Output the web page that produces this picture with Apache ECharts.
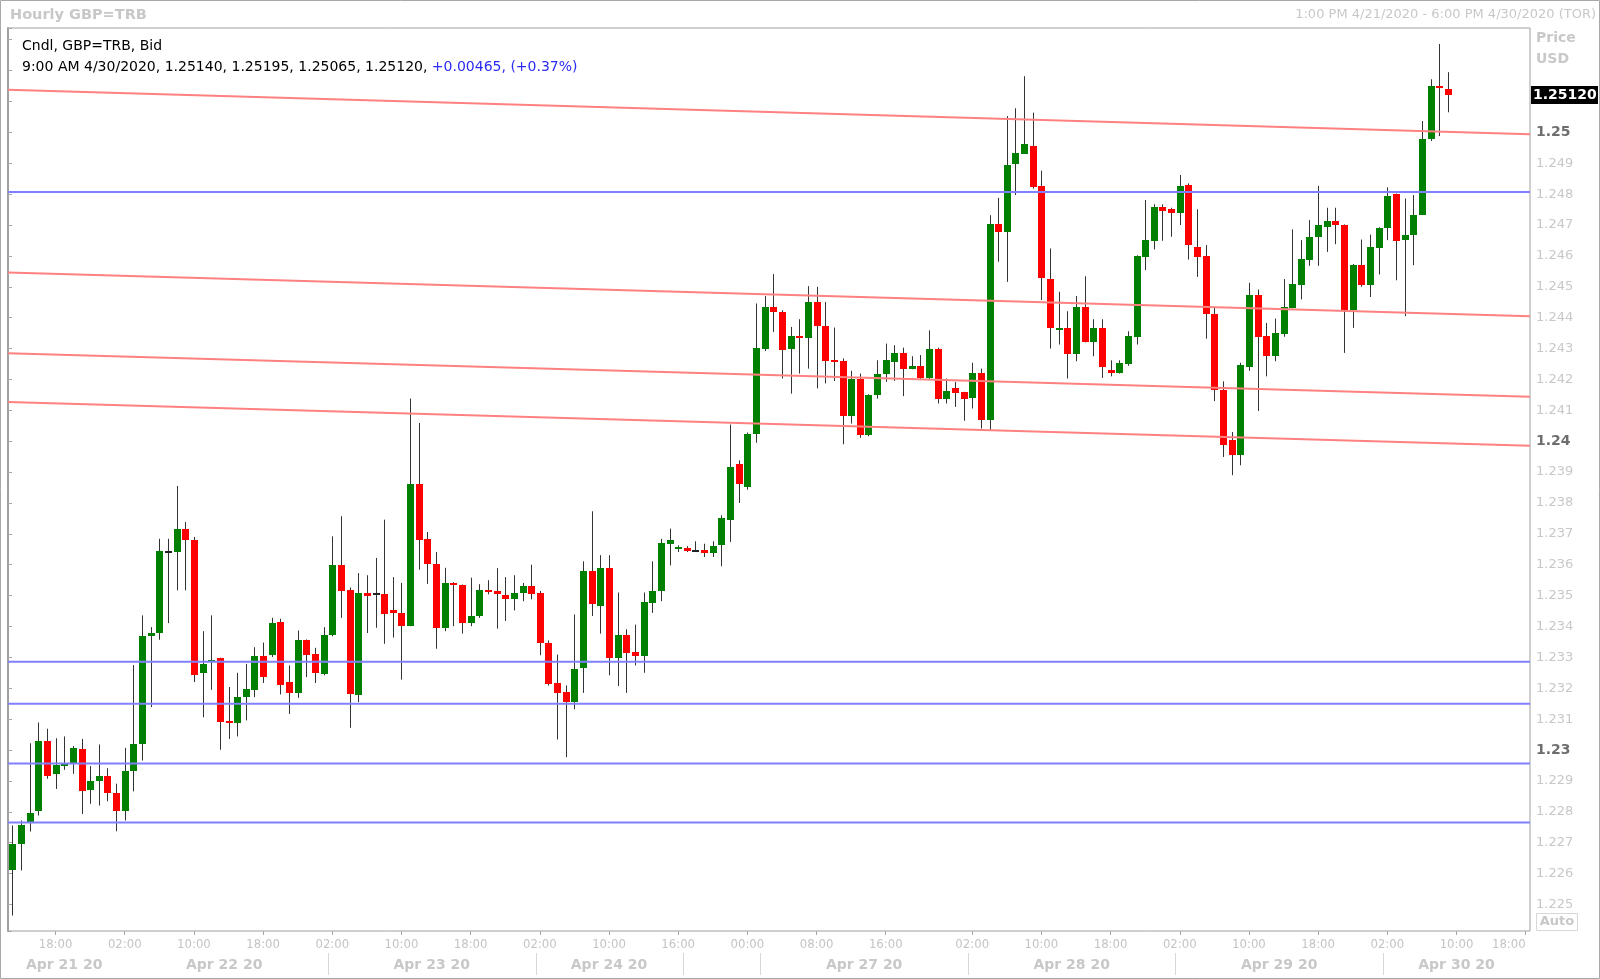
<!DOCTYPE html>
<html><head><meta charset="utf-8">
<script src="https://cdn.jsdelivr.net/npm/echarts@6/dist/echarts.min.js"></script>
<style>html,body{margin:0;padding:0;background:#fff}#c{width:1600px;height:979px}</style>
</head><body><div id="c"></div>
<script>
// ---- data ----
const opens = [1.22610,1.22696,1.22766,1.22801,1.23028,1.22923,1.22952,1.22958,1.23003,1.22872,
1.22899,1.22916,1.22860,1.22801,1.22932,1.23018,1.23370,1.23379,1.23641,1.23641,
1.23715,1.23681,1.23249,1.23288,1.23299,1.23093,1.23087,1.23171,1.23195,1.23303,
1.23307,1.23413,1.23219,1.23186,1.23355,1.23310,1.23247,1.23371,1.23598,1.23517,
1.23177,1.23509,1.23506,1.23506,1.23452,1.23445,1.23401,1.23860,1.23684,1.23603,
1.23396,1.23541,1.23533,1.23411,1.23433,1.23519,1.23515,1.23501,1.23488,1.23508,
1.23530,1.23510,1.23348,1.23218,1.23188,1.23155,1.23267,1.23580,1.23466,1.23591,
1.23298,1.23371,1.23319,1.23306,1.23477,1.23514,1.23668,1.23653,1.23655,1.23645,
1.23647,1.23639,1.23665,1.23746,1.23925,1.23852,1.24022,1.24300,1.24435,1.24419,
1.24297,1.24340,1.24333,1.24451,1.24372,1.24262,1.24259,1.24081,1.24203,1.24019,
1.24149,1.24217,1.24257,1.24287,1.24235,1.24244,1.24205,1.24300,1.24138,1.24173,
1.24158,1.24140,1.24222,1.24068,1.24702,1.24676,1.24897,1.24930,1.24957,1.24827,
1.24525,1.24362,1.24365,1.24282,1.24435,1.24322,1.24365,1.24230,1.24221,1.24251,
1.24338,1.24597,1.24649,1.24759,1.24751,1.24740,1.24829,1.24629,1.24599,1.24413,
1.24167,1.24003,1.23954,1.24241,1.24475,1.24340,1.24275,1.24347,1.24430,1.24507,
1.24586,1.24660,1.24692,1.24714,1.24700,1.24424,1.24572,1.24507,1.24627,1.24689,
1.24799,1.24651,1.24667,1.24734,1.24977,1.25148,1.25140];
const highs = [1.22756,1.22772,1.23022,1.23089,1.23069,1.23038,1.23044,1.23013,1.23036,1.22948,
1.23018,1.22941,1.22891,1.23007,1.23275,1.23436,1.23398,1.23684,1.23684,1.23855,
1.23738,1.23690,1.23385,1.23436,1.23299,1.23204,1.23250,1.23279,1.23333,1.23348,
1.23428,1.23425,1.23274,1.23387,1.23358,1.23331,1.23398,1.23692,1.23757,1.23526,
1.23573,1.23566,1.23622,1.23746,1.23560,1.23541,1.24138,1.24059,1.23706,1.23641,
1.23590,1.23544,1.23536,1.23558,1.23537,1.23550,1.23589,1.23560,1.23566,1.23541,
1.23600,1.23515,1.23355,1.23309,1.23209,1.23439,1.23611,1.23773,1.23631,1.23631,
1.23510,1.23391,1.23406,1.23510,1.23611,1.23684,1.23717,1.23663,1.23660,1.23676,
1.23668,1.23676,1.23760,1.24054,1.23938,1.24028,1.24446,1.24470,1.24541,1.24424,
1.24370,1.24395,1.24502,1.24500,1.24451,1.24368,1.24268,1.24228,1.24219,1.24152,
1.24262,1.24316,1.24311,1.24303,1.24275,1.24279,1.24359,1.24303,1.24203,1.24192,
1.24160,1.24254,1.24235,1.24732,1.24788,1.25053,1.25078,1.25182,1.25064,1.24876,
1.24624,1.24484,1.24421,1.24470,1.24534,1.24395,1.24395,1.24262,1.24262,1.24356,
1.24602,1.24781,1.24767,1.24767,1.24756,1.24862,1.24835,1.24751,1.24635,1.24432,
1.24194,1.24030,1.24254,1.24513,1.24491,1.24383,1.24397,1.24525,1.24686,1.24651,
1.24716,1.24827,1.24756,1.24756,1.24702,1.24574,1.24653,1.24669,1.24693,1.24822,
1.24802,1.24786,1.24797,1.25037,1.25172,1.25286,1.25195];
const lows = [1.22464,1.22610,1.22736,1.22788,1.22907,1.22874,1.22936,1.22923,1.22793,1.22826,
1.22820,1.22834,1.22737,1.22772,1.22866,1.22966,1.23139,1.23357,1.23411,1.23517,
1.23517,1.23220,1.23106,1.23195,1.23001,1.23036,1.23044,1.23096,1.23171,1.23217,
1.23301,1.23180,1.23117,1.23169,1.23236,1.23217,1.23242,1.23368,1.23428,1.23072,
1.23155,1.23379,1.23396,1.23344,1.23364,1.23228,1.23401,1.23584,1.23538,1.23328,
1.23385,1.23401,1.23377,1.23401,1.23428,1.23504,1.23393,1.23418,1.23452,1.23482,
1.23488,1.23307,1.23209,1.23034,1.22977,1.23132,1.23185,1.23434,1.23377,1.23242,
1.23207,1.23185,1.23274,1.23250,1.23444,1.23482,1.23598,1.23641,1.23641,1.23641,
1.23625,1.23625,1.23595,1.23674,1.23800,1.23843,1.23995,1.24292,1.24354,1.24203,
1.24154,1.24219,1.24235,1.24171,1.24187,1.24195,1.23990,1.24057,1.24011,1.24016,
1.24138,1.24192,1.24195,1.24146,1.24233,1.24198,1.24198,1.24122,1.24122,1.24111,
1.24066,1.24106,1.24041,1.24036,1.24581,1.24516,1.24797,1.24930,1.24818,1.24457,
1.24300,1.24313,1.24203,1.24259,1.24320,1.24275,1.24205,1.24210,1.24219,1.24244,
1.24313,1.24554,1.24621,1.24649,1.24662,1.24700,1.24588,1.24532,1.24332,1.24130,
1.23949,1.23890,1.23922,1.24228,1.24098,1.24210,1.24259,1.24338,1.24430,1.24459,
1.24568,1.24568,1.24613,1.24638,1.24286,1.24367,1.24500,1.24467,1.24540,1.24651,
1.24521,1.24405,1.24570,1.24732,1.24972,1.24988,1.25065];
const closes = [1.22696,1.22756,1.22797,1.23028,1.22915,1.22952,1.22955,1.23007,1.22866,1.22899,
1.22916,1.22860,1.22804,1.22932,1.23018,1.23370,1.23379,1.23644,1.23641,1.23715,
1.23681,1.23242,1.23277,1.23292,1.23090,1.23087,1.23173,1.23197,1.23303,1.23236,
1.23411,1.23209,1.23186,1.23355,1.23307,1.23249,1.23374,1.23598,1.23515,1.23180,
1.23509,1.23500,1.23506,1.23441,1.23444,1.23401,1.23860,1.23681,1.23603,1.23396,
1.23541,1.23533,1.23411,1.23435,1.23519,1.23512,1.23506,1.23488,1.23509,1.23530,
1.23506,1.23348,1.23215,1.23185,1.23155,1.23263,1.23580,1.23474,1.23591,1.23298,
1.23371,1.23315,1.23306,1.23479,1.23515,1.23670,1.23681,1.23656,1.23645,1.23645,
1.23639,1.23661,1.23752,1.23917,1.23860,1.24023,1.24303,1.24435,1.24419,1.24295,
1.24340,1.24333,1.24451,1.24372,1.24260,1.24257,1.24081,1.24200,1.24019,1.24149,
1.24219,1.24262,1.24287,1.24235,1.24244,1.24205,1.24300,1.24138,1.24163,1.24156,
1.24136,1.24222,1.24068,1.24702,1.24676,1.24894,1.24932,1.24962,1.24824,1.24529,
1.24365,1.24367,1.24282,1.24435,1.24322,1.24365,1.24241,1.24221,1.24254,1.24340,
1.24599,1.24651,1.24759,1.24745,1.24740,1.24827,1.24635,1.24597,1.24411,1.24165,
1.23989,1.23954,1.24246,1.24475,1.24338,1.24275,1.24349,1.24435,1.24508,1.24589,
1.24660,1.24700,1.24714,1.24700,1.24426,1.24572,1.24507,1.24629,1.24691,1.24795,
1.24649,1.24669,1.24734,1.24980,1.25150,1.25146,1.25120];

const sessionDays = ['Apr 21','Apr 22','Apr 23','Apr 24','Apr 26','Apr 27','Apr 28','Apr 29','Apr 30'];
const sessionFirstHour = [13,0,0,0,17,0,0,0,0];
const sessionLastHour = [23,23,23,18,23,23,23,23,18];

const timeTickSlots = [5,13,21,29,37,45,53,61,69,77,85,93,101,111,119,127,135,143,151,159,167,175];
const timeTickLabels = ['18:00','02:00','10:00','18:00','02:00','10:00','18:00','02:00','10:00','16:00','00:00',
  '08:00','16:00','02:00','10:00','18:00','02:00','10:00','18:00','02:00','10:00','18:00'];

const dayLabels = ['Apr 21 20','Apr 22 20','Apr 23 20','Apr 24 20','','Apr 27 20','Apr 28 20','Apr 29 20','Apr 30 20'];
const dayFirstSlot = [0,13,37,61,78,87,111,135,159];
const dayLastSlot = [12,36,60,77,86,110,134,158,175];
const daySeparator = [false,false,true,true,true,true,true,true,true];

const trendStart = [1.25138, 1.24546, 1.24285, 1.24127];
const trendEnd   = [1.24994, 1.24405, 1.24144, 1.23985];
const levels = [1.24807, 1.23286, 1.23150, 1.22956, 1.22765];

const lastTime = '9:00 AM 4/30/2020';
const changeText = '+0.00465, (+0.37%)';

// ---- build ----
const categories = [];
sessionDays.forEach((d,k)=>{
  for (let h = sessionFirstHour[k]; h <= sessionLastHour[k]; h++) categories.push(d + ' ' + String(h).padStart(2,'0') + ':00');
});
const tickMap = {};
timeTickSlots.forEach((s,k)=>{ tickMap[s] = timeTickLabels[k]; });

const GREEN = '#008000', RED = '#FF0000';
const candleData = opens.map((o,i)=>[i, o, closes[i], lows[i], highs[i]]);

function renderCandle(params, api){
  const i = api.value(0), o = api.value(1), c = api.value(2), l = api.value(3), h = api.value(4);
  const po = api.coord([i,o]), pc = api.coord([i,c]), pl = api.coord([i,l]), ph = api.coord([i,h]);
  const cx = Math.round(po[0]);
  let top = Math.round(Math.min(po[1],pc[1])), bot = Math.round(Math.max(po[1],pc[1]));
  if (bot - top < 2) { const m = Math.round((top+bot)/2); top = m-1; bot = m+1; }
  const col = c > o ? GREEN : (c < o ? RED : '#222222');
  return {type:'group', children:[
    {type:'line', shape:{x1:cx+0.5, y1:ph[1], x2:cx+0.5, y2:pl[1]}, style:{stroke:'#333333', lineWidth:1}},
    {type:'rect', shape:{x:cx-3, y:top, width:7, height:bot-top}, style:{fill:col}}
  ]};
}

function renderDay(params, api){
  const s = api.value(0), e = api.value(1);
  const half = api.size([1,0])[0] / 2;
  const x0 = api.coord([s, 1.24])[0] - half;
  const x1 = api.coord([e, 1.24])[0] + half;
  const cs = params.coordSys;
  const bottom = cs.y + cs.height;
  const children = [];
  if (daySeparator[params.dataIndex]) {
    const xs = Math.round(x0) + 0.5;
    children.push({type:'line', shape:{x1:xs, y1:bottom+22, x2:xs, y2:bottom+44}, style:{stroke:'#D6D6D6', lineWidth:1}});
  }
  const txt = dayLabels[params.dataIndex];
  if (txt) children.push({type:'text', style:{text:txt, x:(x0+x1)/2, y:bottom+34, align:'center', verticalAlign:'middle',
    fill:'#C8C8C8', font:'bold 14px "DejaVu Sans"'}});
  return {type:'group', children};
}

const series = [];
series.push({type:'custom', name:'days', xAxisIndex:0, yAxisIndex:0, data: dayFirstSlot.map((s,k)=>[s, dayLastSlot[k]]),
  renderItem: renderDay, clip:false, silent:true, z:1, encode:{x:0}});
series.push({type:'custom', name:'GBP', xAxisIndex:0, yAxisIndex:0, data:candleData, renderItem:renderCandle,
  encode:{x:0, y:[1,2,3,4]}, clip:true, silent:true, z:2});
trendStart.forEach((a,k)=>series.push({type:'line', xAxisIndex:1, yAxisIndex:0, data:[[0,a],[1,trendEnd[k]]],
  symbol:'none', silent:true, z:5, lineStyle:{color:'#FF8080', width:2}}));
levels.forEach((v)=>series.push({type:'line', xAxisIndex:1, yAxisIndex:0, data:[[0,v],[1,v]], symbol:'none', silent:true, z:5,
    lineStyle:{color:'#8080FF', width:2}}));

const n = opens.length - 1;
const lastClose = closes[n];
const infoLine = lastTime + ', ' + opens[n].toFixed(5) + ', ' + highs[n].toFixed(5) + ', ' + lows[n].toFixed(5) + ', ' + closes[n].toFixed(5) + ', ';

const gray = '#C8C8C8';
const graphics = [
  {type:'rect', shape:{x:0.5, y:0.5, width:1599, height:978}, style:{fill:'none', stroke:'#A8A8A8', lineWidth:1}, silent:true, z:-1},
  {type:'text', x:10, y:15, style:{text:'Hourly GBP=TRB', font:'bold 14.5px "DejaVu Sans"', fill:gray, verticalAlign:'middle'}, silent:true},
  {type:'text', x:1596, y:15, style:{text:'1:00 PM 4/21/2020 - 6:00 PM 4/30/2020 (TOR)', font:'13px "DejaVu Sans"', fill:gray, align:'right', verticalAlign:'middle'}, silent:true},
  {type:'text', x:1536, y:38, style:{text:'Price', font:'bold 14px "DejaVu Sans"', fill:gray, verticalAlign:'middle'}, silent:true},
  {type:'text', x:1536, y:59, style:{text:'USD', font:'bold 14px "DejaVu Sans"', fill:gray, verticalAlign:'middle'}, silent:true},
  {type:'rect', shape:{x:1536.5, y:913.5, width:41, height:17}, style:{fill:'#fff', stroke:'#D8D8D8', lineWidth:1}, silent:true},
  {type:'text', x:1557, y:922, style:{text:'Auto', font:'bold 13px "DejaVu Sans"', fill:gray, align:'center', verticalAlign:'middle'}, silent:true},
  {type:'text', x:22, y:46, z:100, style:{text:'Cndl, GBP=TRB, Bid', font:'14px "DejaVu Sans"', fill:'#000', verticalAlign:'middle'}, silent:true},
  {type:'text', x:22, y:67, z:100, style:{text:'{k|' + infoLine + '}{b|' + changeText + '}', font:'14px "DejaVu Sans"', verticalAlign:'middle',
    rich:{k:{fill:'#000', color:'#000', font:'14px "DejaVu Sans"'}, b:{fill:'#2B2BF5', color:'#2B2BF5', font:'14px "DejaVu Sans"'}}}, silent:true}
];

const option = {
  animation:false,
  backgroundColor:'#ffffff',
  grid:{left:8, top:28, width:1522, height:903, show:true, borderColor:'#A0A0A0', borderWidth:1, backgroundColor:'#fff'},
  xAxis:[
    {type:'category', data:categories, boundaryGap:true,
     axisLine:{show:false},
     axisTick:{show:true, alignWithLabel:true, length:4, interval:(idx)=>tickMap[idx]!==undefined, lineStyle:{color:'#A8A8A8'}},
     axisLabel:{interval:(idx)=>tickMap[idx]!==undefined, formatter:(v,idx)=>tickMap[idx]||'', color:'#C4C4C4',
       fontFamily:'"DejaVu Sans Condensed","DejaVu Sans"', fontSize:13, margin:7, alignMaxLabel:'right'},
     splitLine:{show:false}},
    {type:'value', min:0, max:1, show:false}
  ],
  yAxis:[{type:'value', position:'right', min:1.22414, max:1.25338, scale:true, splitNumber:30, minInterval:0.001, maxInterval:0.001,
    axisLine:{show:true, lineStyle:{color:'#A0A0A0', width:2}},
    axisTick:{show:true, length:4, lineStyle:{color:'#A8A8A8'}},
    splitLine:{show:false},
    axisLabel:{margin:6, fontFamily:'"DejaVu Sans"', fontSize:13,
      formatter:(v)=>{
        const k = Math.round(v*1000);
        if (Math.abs(v*1000 - k) > 1e-4) return '';
        if (k > 1250) return '';
        if (k % 10 === 0) return '{b|' + (k/1000).toFixed(2) + '}';
        return '{n|' + (k/1000).toFixed(3) + '}';
      },
      rich:{b:{fontWeight:'bold', color:'#6E6E6E', fontSize:14, fontFamily:'DejaVu Sans'}, n:{color:gray, fontSize:13, fontFamily:'DejaVu Sans'}}}
  }],
  series: series,
  graphic: graphics
};
const chart = echarts.init(document.getElementById('c'), null, {renderer:'canvas'});
chart.setOption(option);

// last-price box placed through the y scale
const yLast = chart.convertToPixel({yAxisIndex:0}, lastClose);
const xAxisRight = chart.convertToPixel({xAxisIndex:1}, 1);
chart.setOption({graphic: graphics.concat([
  {type:'rect', shape:{x:xAxisRight+1, y:Math.round(yLast)-9, width:67, height:18}, style:{fill:'#000'}, silent:true, z:50},
  {type:'text', x:xAxisRight+3, y:Math.round(yLast), z:51, style:{text:lastClose.toFixed(5), font:'bold 14px "DejaVu Sans"', fill:'#fff', verticalAlign:'middle'}, silent:true}
])});
</script>
</body></html>
